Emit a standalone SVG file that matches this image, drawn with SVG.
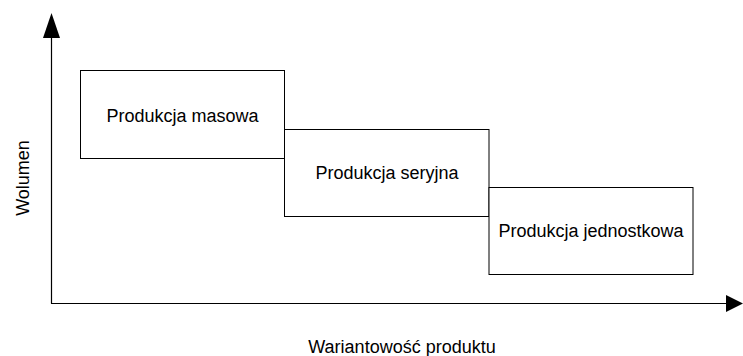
<svg xmlns="http://www.w3.org/2000/svg" width="743" height="356" viewBox="0 0 743 356">
  <style>
    .box { fill: #ffffff; stroke: #000000; stroke-width: 1; }
    .axis { fill: none; stroke: #000000; stroke-width: 1.2; }
    .head { fill: #000000; stroke: none; }
    .lbl { font-family: "Liberation Sans", Arial, sans-serif; font-size: 18px; fill: #000000; text-anchor: middle; }
  </style>
  <rect width="743" height="356" fill="#ffffff"/>
  <g id="connectors">
    <line class="axis" x1="51.5" y1="36" x2="51.5" y2="303.5"/>
    <polygon class="head" points="51.5,13 43,38 60,38"/>
    <line class="axis" x1="51" y1="303.5" x2="728" y2="303.5"/>
    <polygon class="head" points="743,303.5 726,295 726,312"/>
  </g>
  <g id="node-masowa">
    <rect class="box" x="80.5" y="70.5" width="204" height="88"/>
    <text class="lbl" x="182.5" y="121.5">Produkcja masowa</text>
  </g>
  <g id="node-seryjna">
    <rect class="box" x="284.5" y="129.5" width="204.5" height="87"/>
    <text class="lbl" x="387" y="179">Produkcja seryjna</text>
  </g>
  <g id="node-jednostkowa">
    <rect class="box" x="489" y="187.5" width="204" height="87"/>
    <text class="lbl" x="591" y="237">Produkcja jednostkowa</text>
  </g>
  <g id="label-y">
    <text class="lbl" transform="translate(28.5,178) rotate(-90)">Wolumen</text>
  </g>
  <g id="label-x">
    <text class="lbl" x="402" y="353">Wariantowość produktu</text>
  </g>
</svg>
